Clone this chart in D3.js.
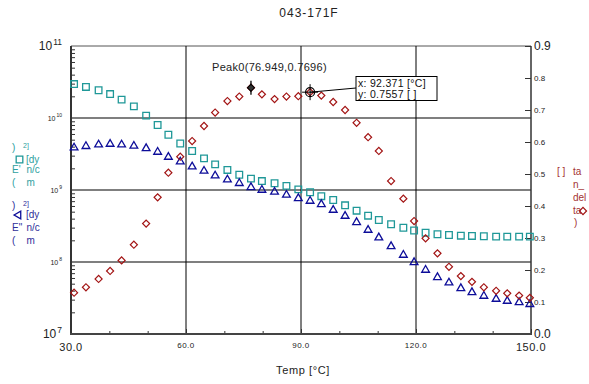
<!DOCTYPE html>
<html>
<head>
<meta charset="utf-8">
<script src="https://cdn.jsdelivr.net/npm/d3@7"></script>
<style>
  body { margin: 0; background: #fff; }
  svg { display: block; font-family: "Liberation Sans", Arial, sans-serif; }
</style>
</head>
<body>
<div id="chart"></div>
<script>
// Temperature of every measured point [°C]
const temps = [30.8, 33.9, 37.2, 40.2, 43.2, 46.4, 49.6, 52.6, 55.4, 58.5,
  61.6, 64.7, 67.6, 70.8, 73.9, 76.949, 79.8, 83.1, 86.2, 89.3,
  92.371, 95.3, 98.4, 101.5, 104.5, 107.5, 110.3, 113.5, 116.7, 119.5,
  122.5, 125.6, 128.6, 131.7, 134.6, 137.7, 140.9, 143.8, 146.9, 149.7];

// E' storage modulus [dyn/cm2]
const storageMod = [2.96e10, 2.70e10, 2.43e10, 2.15e10, 1.80e10, 1.45e10, 1.08e10, 8.0e9, 5.86e9, 4.42e9,
  3.48e9, 2.75e9, 2.27e9, 1.90e9, 1.63e9, 1.44e9, 1.33e9, 1.24e9, 1.14e9, 1.02e9,
  9.3e8, 8.2e8, 7.26e8, 6.13e8, 5.16e8, 4.40e8, 3.83e8, 3.34e8, 2.99e8, 2.74e8,
  2.55e8, 2.43e8, 2.37e8, 2.32e8, 2.30e8, 2.28e8, 2.25e8, 2.25e8, 2.25e8, 2.25e8];

// E" loss modulus [dyn/cm2]
const lossMod = [3.87e9, 4.05e9, 4.26e9, 4.35e9, 4.26e9, 4.09e9, 3.79e9, 3.37e9, 2.87e9, 2.47e9,
  2.11e9, 1.84e9, 1.58e9, 1.39e9, 1.24e9, 1.09e9, 1.0e9, 9.4e8, 8.53e8, 7.67e8,
  7.03e8, 6.33e8, 5.27e8, 4.35e8, 3.56e8, 2.78e8, 2.18e8, 1.65e8, 1.25e8, 9.9e7,
  7.74e7, 6.13e7, 5.16e7, 4.31e7, 3.79e7, 3.37e7, 3.06e7, 2.87e7, 2.75e7, 2.59e7];

// tan_delta
const tanDelta = [0.129, 0.146, 0.172, 0.197, 0.230, 0.279, 0.345, 0.427, 0.504, 0.554,
  0.603, 0.650, 0.692, 0.728, 0.742, 0.7696, 0.749, 0.734, 0.742, 0.743,
  0.7557, 0.745, 0.725, 0.700, 0.660, 0.615, 0.572, 0.478, 0.423, 0.353,
  0.299, 0.252, 0.210, 0.181, 0.163, 0.146, 0.135, 0.127, 0.120, 0.113];

// tick labels
const xLabels = [30, 60, 90, 120, 150];
const xMinor = [40, 50, 70, 80, 100, 110, 130, 140];
const leftExps = [7, 8, 9, 10, 11];
const rightLabels = [0, 0.1, 0.2, 0.3, 0.4, 0.5, 0.6, 0.7, 0.8, 0.9];

const peak = {x: 76.949, y: 0.7696};
const cursor = {x: 92.371, y: 0.7557};

const W = 589, H = 384;
const plotL = 71, plotR = 531, plotT = 46, plotB = 334;

const teal = "#1f9898", blue = "#0d0d99", red = "#a31515";

const svg = d3.select("#chart").append("svg")
  .attr("width", W).attr("height", H);

svg.append("rect").attr("width", W).attr("height", H).attr("fill", "#fff");

const x = d3.scaleLinear().domain([30, 150]).range([plotL, plotR]);
const yL = d3.scaleLog().domain([1e7, 1e11]).range([plotB, plotT]);
const yR = d3.scaleLinear().domain([0, 0.9]).range([plotB, plotT]);

// title
svg.append("text").attr("x", 309).attr("y", 17)
  .attr("text-anchor", "middle").attr("font-size", 12).attr("letter-spacing", 1)
  .attr("fill", "#222").text("043-171F");

// top frame
svg.append("line").attr("x1", plotL).attr("x2", plotR).attr("y1", plotT).attr("y2", plotT)
  .attr("stroke", "#555").attr("stroke-width", 1);

// horizontal grid at decades
svg.append("g").selectAll("line")
  .data([1e8, 1e9, 1e10]).enter().append("line")
  .attr("x1", plotL).attr("x2", plotR)
  .attr("y1", d => yL(d)).attr("y2", d => yL(d))
  .attr("stroke", "#555").attr("stroke-width", 1.6);

// vertical grid
svg.append("g").selectAll("line")
  .data([60, 90, 120]).enter().append("line")
  .attr("x1", d => x(d)).attr("x2", d => x(d))
  .attr("y1", plotT).attr("y2", plotB)
  .attr("stroke", "#000").attr("stroke-width", 1);

// left axis minor ticks (inside)
const logMinor = [];
for (let e = 7; e < 11; e++) for (let m = 2; m <= 9; m++) logMinor.push(m * Math.pow(10, e));
const gL = svg.append("g").attr("transform", `translate(${plotL},0)`)
  .call(d3.axisRight(yL).tickValues(logMinor).tickSize(4).tickFormat(""));
gL.select(".domain").remove();
svg.append("line").attr("x1", plotL).attr("x2", plotL).attr("y1", plotT).attr("y2", plotB + 1)
  .attr("stroke", "#333").attr("stroke-width", 2);

// right axis ticks (inside)
const gR = svg.append("g").attr("transform", `translate(${plotR},0)`)
  .call(d3.axisLeft(yR).tickValues(rightLabels).tickSize(6).tickFormat(""));
gR.select(".domain").remove();
svg.append("line").attr("x1", plotR).attr("x2", plotR).attr("y1", plotT).attr("y2", plotB)
  .attr("stroke", "#333").attr("stroke-width", 1.5);

// bottom axis ticks (inside)
const gB1 = svg.append("g").attr("transform", `translate(0,${plotB})`)
  .call(d3.axisTop(x).tickValues(xMinor).tickSize(3).tickFormat(""));
const gB2 = svg.append("g").attr("transform", `translate(0,${plotB})`)
  .call(d3.axisTop(x).tickValues(xLabels).tickSize(5).tickFormat(""));
gB1.select(".domain").remove();
gB2.select(".domain").remove();
svg.selectAll(".tick line").attr("stroke", "#333");
svg.append("line").attr("x1", plotL - 1).attr("x2", plotR + 1).attr("y1", plotB).attr("y2", plotB)
  .attr("stroke", "#444").attr("stroke-width", 2.2);

// bottom labels, first and last larger
svg.append("g").selectAll("text")
  .data(xLabels).enter().append("text")
  .attr("x", d => x(d))
  .attr("y", (d, i) => (i === 0 || i === xLabels.length - 1) ? 351 : 348)
  .attr("text-anchor", "middle")
  .attr("font-size", (d, i) => (i === 0 || i === xLabels.length - 1) ? 11 : 8)
  .attr("letter-spacing", 0.5)
  .attr("fill", "#222")
  .text(d => d.toFixed(1));

svg.append("text").attr("x", 303).attr("y", 374).attr("text-anchor", "middle")
  .attr("font-size", 11).attr("letter-spacing", 0.6).attr("fill", "#222")
  .text("Temp [°C]");

// left labels (10^n)
leftExps.forEach((e, i) => {
  const big = (i === 0 || i === leftExps.length - 1);
  const t = svg.append("text")
    .attr("x", 62).attr("y", yL(Math.pow(10, e)) + (big ? 4 : 3))
    .attr("text-anchor", "end").attr("fill", "#222")
    .attr("font-size", big ? 12 : 7);
  t.append("tspan").text("10");
  t.append("tspan").attr("dy", big ? -5 : -4).attr("dx", 1)
    .attr("font-size", big ? 8.5 : 5).text(e);
});

// right labels
svg.append("g").selectAll("text")
  .data(rightLabels).enter().append("text")
  .attr("x", 534)
  .attr("y", (d, i) => yR(d) + ((i === 0 || i === rightLabels.length - 1) ? 4 : 3))
  .attr("font-size", (d, i) => (i === 0 || i === rightLabels.length - 1) ? 12 : 8)
  .attr("fill", "#222")
  .text(d => d.toFixed(1));

// marker shapes
const sq = d3.symbol(d3.symbolSquare, 44);
const tri = d3.symbol(d3.symbolTriangle, 26);
const dia = d3.symbol(d3.symbolSquare, 25);

svg.append("g").selectAll("path")
  .data(temps).enter().append("path")
  .attr("d", sq)
  .attr("transform", (d, i) => `translate(${x(d)},${yL(storageMod[i])})`)
  .attr("fill", "none").attr("stroke", teal).attr("stroke-width", 1.3);

svg.append("g").selectAll("path")
  .data(temps).enter().append("path")
  .attr("d", tri)
  .attr("transform", (d, i) => `translate(${x(d)},${yL(lossMod[i])})`)
  .attr("fill", "none").attr("stroke", blue).attr("stroke-width", 1.3);

svg.append("g").selectAll("path")
  .data(temps).enter().append("path")
  .attr("d", dia)
  .attr("transform", (d, i) => `translate(${x(d)},${yR(tanDelta[i])}) rotate(45)`)
  .attr("fill", "none").attr("stroke", red).attr("stroke-width", 1.2);

// peak annotation
const px = x(peak.x), py = yR(peak.y);
svg.append("line").attr("x1", px).attr("x2", px).attr("y1", py - 7).attr("y2", py + 7)
  .attr("stroke", "#000").attr("stroke-width", 1.3);
svg.append("path").attr("d", dia).attr("transform", `translate(${px},${py}) rotate(45)`)
  .attr("fill", "#333").attr("stroke", "#000").attr("stroke-width", 1);
svg.append("text").attr("x", 212).attr("y", 71).attr("font-size", 11)
  .attr("letter-spacing", 0.3).attr("fill", "#222")
  .text(`Peak0(${peak.x},${peak.y})`);

// cursor annotation
const cx = x(cursor.x), cy = yR(cursor.y);
svg.append("line").attr("x1", cx).attr("x2", 356).attr("y1", cy).attr("y2", 88)
  .attr("stroke", "#000").attr("stroke-width", 1);
svg.append("circle").attr("cx", cx).attr("cy", cy).attr("r", 4.5)
  .attr("fill", "none").attr("stroke", "#000").attr("stroke-width", 1.2);
svg.append("line").attr("x1", cx).attr("x2", cx).attr("y1", cy - 8).attr("y2", cy + 8)
  .attr("stroke", "#000").attr("stroke-width", 1);
svg.append("line").attr("x1", cx - 8).attr("x2", cx + 8).attr("y1", cy).attr("y2", cy)
  .attr("stroke", "#000").attr("stroke-width", 1);
svg.append("rect").attr("x", 356).attr("y", 76.5).attr("width", 81).attr("height", 24)
  .attr("fill", "#fff").attr("stroke", "#000").attr("stroke-width", 1);
svg.append("text").attr("x", 358).attr("y", 87).attr("font-size", 10.5)
  .attr("letter-spacing", 0.3).attr("fill", "#111").text(`x: ${cursor.x} [°C]`);
svg.append("text").attr("x", 358).attr("y", 98).attr("font-size", 10.5)
  .attr("letter-spacing", 0.3).attr("fill", "#111").text(`y: ${cursor.y} [ ]`);

// left legend (E')
const legT = "#2ea0a0", legB = "#2e2e99", legR = "#a33333";
function txt(xp, yp, s, col, fs) {
  svg.append("text").attr("x", xp).attr("y", yp).attr("font-size", fs || 10)
    .attr("fill", col).text(s);
}
txt(12, 151, ")", legT); txt(23, 148, "2]", legT, 7);
svg.append("path").attr("d", sq).attr("transform", "translate(19.5,159.5)")
  .attr("fill", "none").attr("stroke", teal).attr("stroke-width", 1.3);
txt(26, 162.5, "[dy", legT);
txt(12, 173, "E'", legT); txt(26.5, 173, "n/c", legT);
txt(12, 185.5, "(", legT); txt(26.5, 185.5, "m", legT);

// left legend (E")
txt(12, 208.5, ")", legB); txt(23, 205.5, "2]", legB, 7);
svg.append("path").attr("d", tri).attr("transform", "translate(18.5,215) rotate(-90)")
  .attr("fill", "none").attr("stroke", blue).attr("stroke-width", 1.3);
txt(26, 217.5, "[dy", legB);
txt(12, 231, "E\"", legB); txt(26.5, 231, "n/c", legB);
txt(12, 244, "(", legB); txt(26.5, 244, "m", legB);

// right legend (tan_delta)
txt(557, 175, "[ ]", legR); txt(573, 175, "ta", legR);
txt(573, 188, "n_", legR);
txt(573, 200.5, "del", legR);
txt(573, 213.5, "ta", legR);
svg.append("path").attr("d", dia).attr("transform", "translate(583,211) rotate(45)")
  .attr("fill", "none").attr("stroke", red).attr("stroke-width", 1.2);
txt(574, 226, ")", legR);
</script>
</body>
</html>
